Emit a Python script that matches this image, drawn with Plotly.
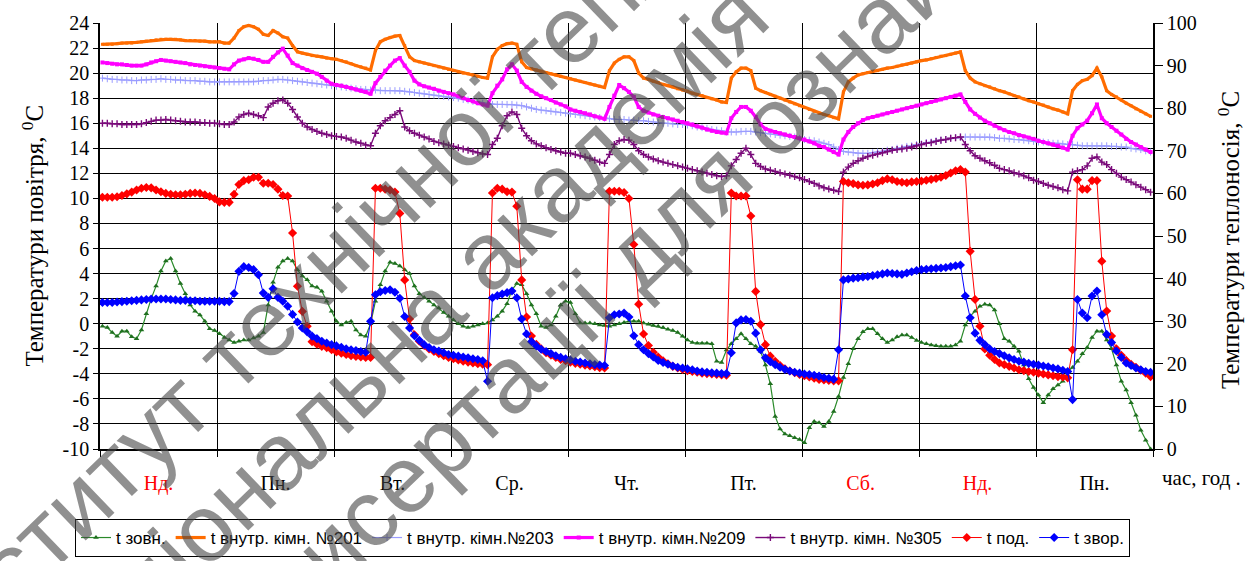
import plotly.graph_objects as go

# ---------------- data ----------------
days = ["Нд.", "Пн.", "Вт.", "Ср.", "Чт.", "Пт.", "Сб.", "Нд.", "Пн."]
day_colors = ["red", "black", "black", "black", "black", "black", "red", "red", "black"]
hours = list(range(216))

left_ticks = [-10, -8, -6, -4, -2, 0, 2, 4, 6, 8, 10, 12, 14, 16, 18, 20, 22, 24]
right_ticks = [0, 10, 20, 30, 40, 50, 60, 70, 80, 90, 100]

watermark_lines = ["Інститут технічної теплофізики",
                   "Національна академія наук України",
                   "дисертації для ознайомлення"]

t_out = [
    -0.2, -0.3, -0.7, -1.0, -0.6, -0.6, -1.05, -1.2, -0.5, 0.8, 2.0, 3.0, 4.2, 5.0, 5.2, 4.2, 3.2, 2.4, 1.5, 1.0, 0.7, 0.2, -0.4, -0.55,
    -0.8, -1.1, -1.3, -1.5, -1.4, -1.3, -1.3, -1.15, -1.0, -0.7, 1.5, 3.3, 4.5, 5.0, 5.2, 5.0, 4.3, 3.8, 3.5, 3.0, 2.9, 2.6, 1.8, 1.0,
    0.2, -0.1, 0.1, 0.2, -0.5, -0.9, -1.0, 0.0, 1.8, 3.1, 4.2, 4.9, 4.8, 4.6, 4.3, 4.0, 3.0, 2.4, 2.1, 1.8, 1.5, 1.25, 0.9, 0.6,
    0.3, 0.0, -0.2, -0.3, -0.2, -0.1, 0.0, 0.05, 0.3, 0.6, 1.0, 1.6, 2.7, 3.2, 3.1, 2.4, 1.5, 0.8, -0.2, -0.3, -0.1, 0.6, 1.5, 1.8,
    1.7, 0.8, 0.05, 0.05, 0.05, 0.0, -0.1, -0.15, -0.2, -0.1, 0.0, 0.1, 0.2, 0.2, 0.2, 0.05, -0.05, -0.15, -0.2, -0.3, -0.45, -0.55, -0.7, -1.0,
    -1.3, -1.5, -1.55, -1.55, -1.55, -1.6, -3.0, -3.1, -2.1, -1.6, -1.2, -0.8, -1.2, -1.6, -1.8, -2.2, -3.3, -4.8, -7.4, -8.4, -8.8, -8.95, -9.1, -9.25,
    -9.5, -8.3, -7.8, -7.9, -8.2, -7.8, -7.0, -5.8, -4.3, -3.2, -2.0, -1.2, -0.65, -0.4, -0.4, -0.8, -1.2, -1.5, -1.3, -1.05, -0.9, -0.9, -1.1, -1.35,
    -1.5, -1.6, -1.7, -1.75, -1.8, -1.8, -1.8, -1.7, -1.4, -0.1, 0.6, 1.0, 1.4, 1.55, 1.5, 1.1, 0.0, -1.2, -1.4, -1.8, -2.2, -3.3, -4.4, -5.1,
    -5.7, -6.3, -5.7, -5.2, -4.9, -4.6, -3.8, -3.5, -3.0, -2.4, -1.9, -1.1, -0.6, -0.6, -1.3, -2.0, -3.3, -4.6, -5.3, -6.3, -7.3, -8.5, -9.3, -10.0,
]

t_201 = [
    22.3, 22.3, 22.3, 22.35, 22.4, 22.4, 22.4, 22.45, 22.5, 22.55, 22.6, 22.65, 22.7, 22.7, 22.7, 22.7, 22.65, 22.6, 22.6, 22.6, 22.55, 22.55, 22.5, 22.5,
    22.5, 22.4, 22.4, 22.8, 23.4, 23.7, 23.8, 23.7, 23.5, 23.1, 23.0, 23.4, 23.2, 22.9, 22.8, 22.2, 21.7, 21.6, 21.5, 21.4, 21.35, 21.3, 21.2, 21.15,
    21.1, 21.0, 20.9, 20.75, 20.6, 20.5, 20.4, 20.25, 21.8, 22.5, 22.7, 22.85, 22.95, 23.0, 22.2, 21.3, 21.0, 20.9, 20.8, 20.7, 20.6, 20.5, 20.4, 20.3,
    20.2, 20.1, 20.0, 19.95, 19.85, 19.75, 19.65, 19.6, 21.3, 21.9, 22.2, 22.35, 22.4, 22.3, 20.9, 20.45, 20.35, 20.25, 20.15, 20.05, 19.95, 19.85, 19.75, 19.65,
    19.55, 19.45, 19.35, 19.25, 19.15, 19.05, 18.95, 18.85, 20.2, 20.8, 21.1, 21.3, 21.3, 21.0, 20.0, 19.6, 19.5, 19.35, 19.25, 19.1, 19.0, 18.9, 18.75, 18.65,
    18.55, 18.4, 18.3, 18.2, 18.05, 17.95, 17.85, 17.7, 17.65, 19.6, 20.1, 20.4, 20.4, 20.2, 18.8, 18.6, 18.45, 18.3, 18.15, 18.0, 17.85, 17.7, 17.55, 17.4,
    17.25, 17.1, 16.95, 16.8, 16.7, 16.6, 16.45, 16.35, 18.5, 19.3, 19.6, 19.85, 19.95, 20.05, 20.15, 20.2, 20.3, 20.4, 20.45, 20.55, 20.65, 20.7, 20.8, 20.9,
    21.0, 21.05, 21.15, 21.25, 21.35, 21.4, 21.5, 21.6, 21.7, 20.2, 19.6, 19.3, 19.15, 19.0, 18.9, 18.75, 18.6, 18.5, 18.35, 18.2, 18.1, 17.95, 17.8, 17.7,
    17.55, 17.45, 17.3, 17.15, 17.05, 16.9, 16.75, 18.6, 19.1, 19.4, 19.5, 19.8, 20.4, 19.7, 18.6, 18.3, 18.1, 17.85, 17.6, 17.4, 17.15, 16.95, 16.75, 16.55,
]

t_203 = [
    19.6, 19.55, 19.5, 19.5, 19.45, 19.45, 19.4, 19.4, 19.45, 19.45, 19.5, 19.5, 19.55, 19.5, 19.5, 19.45, 19.45, 19.4, 19.4, 19.4, 19.35, 19.35, 19.3, 19.3,
    19.3, 19.3, 19.3, 19.3, 19.3, 19.3, 19.3, 19.3, 19.35, 19.4, 19.4, 19.45, 19.5, 19.5, 19.45, 19.4, 19.35, 19.3, 19.25, 19.2, 19.15, 19.1, 19.05, 19.0,
    18.95, 18.9, 18.85, 18.8, 18.75, 18.7, 18.7, 18.65, 18.65, 18.6, 18.6, 18.6, 18.6, 18.6, 18.55, 18.5, 18.45, 18.4, 18.35, 18.3, 18.25, 18.2, 18.15, 18.1,
    18.05, 18.0, 17.9, 17.85, 17.75, 17.7, 17.6, 17.55, 17.5, 17.5, 17.5, 17.5, 17.5, 17.45, 17.4, 17.3, 17.2, 17.1, 17.05, 17.0, 16.95, 16.9, 16.85, 16.8,
    16.75, 16.7, 16.65, 16.6, 16.55, 16.5, 16.45, 16.4, 16.35, 16.3, 16.3, 16.3, 16.25, 16.25, 16.2, 16.2, 16.15, 16.1, 16.05, 16.0, 16.0, 15.95, 15.9, 15.9,
    15.85, 15.8, 15.7, 15.65, 15.6, 15.5, 15.45, 15.4, 15.3, 15.3, 15.3, 15.35, 15.35, 15.35, 15.3, 15.25, 15.2, 15.15, 15.1, 15.05, 15.0, 14.95, 14.9, 14.8,
    14.7, 14.65, 14.6, 14.5, 14.4, 14.3, 14.1, 13.9, 13.75, 13.7, 13.65, 13.6, 13.6, 13.6, 13.65, 13.7, 13.75, 13.85, 13.9, 14.0, 14.05, 14.15, 14.2, 14.3,
    14.35, 14.45, 14.5, 14.6, 14.65, 14.7, 14.8, 14.85, 14.9, 14.9, 14.9, 14.9, 14.9, 14.9, 14.9, 14.85, 14.8, 14.8, 14.75, 14.7, 14.7, 14.65, 14.6, 14.55,
    14.5, 14.5, 14.45, 14.4, 14.4, 14.35, 14.3, 14.3, 14.25, 14.2, 14.2, 14.2, 14.2, 14.2, 14.2, 14.15, 14.15, 14.1, 14.1, 14.0, 13.95, 13.9, 13.8, 13.7,
]

t_209 = [
    20.85, 20.8, 20.75, 20.7, 20.7, 20.65, 20.6, 20.6, 20.6, 20.7, 20.85, 20.95, 21.05, 21.0, 20.95, 20.9, 20.85, 20.8, 20.7, 20.65, 20.6, 20.55, 20.5, 20.45,
    20.4, 20.35, 20.3, 20.7, 21.0, 21.1, 21.2, 21.15, 21.05, 20.9, 20.9, 21.3, 21.65, 21.95, 21.4, 20.8, 20.6, 20.4, 20.25, 20.1, 19.95, 19.7, 19.4, 19.15,
    19.05, 19.0, 18.9, 18.8, 18.7, 18.6, 18.5, 18.35, 19.2, 19.7, 20.2, 20.6, 21.0, 21.2, 20.6, 20.1, 19.4, 19.1, 18.95, 18.85, 18.75, 18.6, 18.5, 18.4,
    18.3, 18.15, 18.0, 17.85, 17.75, 17.6, 17.5, 17.4, 18.4, 19.0, 19.5, 20.3, 20.7, 20.2, 19.3, 18.9, 18.6, 18.35, 18.15, 18.0, 17.85, 17.65, 17.5, 17.35,
    17.1, 17.0, 16.9, 16.8, 16.7, 16.55, 16.45, 16.35, 17.3, 18.2, 19.05, 18.8, 18.5, 18.1, 17.3, 17.0, 16.85, 16.7, 16.6, 16.5, 16.4, 16.3, 16.2, 16.1,
    16.0, 15.9, 15.75, 15.65, 15.5, 15.4, 15.3, 15.25, 15.2, 16.4, 16.9, 17.3, 17.3, 17.0, 16.5, 15.9, 15.55, 15.4, 15.3, 15.2, 15.1, 15.0, 14.9, 14.8,
    14.7, 14.55, 14.4, 14.2, 14.1, 13.9, 13.7, 13.5, 14.7, 15.3, 15.7, 16.0, 16.25, 16.4, 16.5, 16.6, 16.7, 16.8, 16.9, 17.0, 17.1, 17.2, 17.3, 17.4,
    17.5, 17.6, 17.7, 17.8, 17.9, 18.0, 18.1, 18.2, 18.3, 17.7, 17.1, 16.75, 16.45, 16.2, 16.0, 15.8, 15.6, 15.45, 15.3, 15.2, 15.05, 14.95, 14.85, 14.75,
    14.6, 14.5, 14.4, 14.3, 14.2, 14.05, 13.9, 15.0, 15.6, 15.9, 16.2, 16.8, 17.5, 16.4, 16.0, 15.7, 15.4, 15.1, 14.75, 14.5, 14.3, 14.1, 13.9, 13.7,
]

t_305 = [
    16.0, 16.0, 15.95, 15.95, 15.9, 15.9, 15.9, 15.9, 15.95, 16.05, 16.15, 16.25, 16.25, 16.3, 16.25, 16.2, 16.15, 16.1, 16.1, 16.1, 16.05, 16.05, 16.0, 16.0,
    15.95, 15.9, 15.9, 16.1, 16.5, 16.7, 16.8, 16.7, 16.6, 16.45, 17.3, 17.6, 17.8, 17.85, 17.6, 17.1, 16.5, 16.0, 15.7, 15.5, 15.35, 15.2, 15.1, 15.0,
    14.95, 14.9, 14.8, 14.65, 14.5, 14.4, 14.25, 14.2, 15.2, 15.8, 16.2, 16.45, 16.7, 17.0, 15.7, 15.4, 15.2, 15.05, 14.9, 14.75, 14.55, 14.45, 14.35, 14.25,
    14.15, 14.05, 13.95, 13.85, 13.75, 13.65, 13.55, 13.5, 14.3, 14.8, 15.8, 16.6, 16.9, 16.7, 15.6, 15.0, 14.6, 14.35, 14.2, 14.05, 13.9, 13.8, 13.7, 13.6,
    13.6, 13.5, 13.4, 13.3, 13.2, 13.05, 12.9, 12.8, 13.5, 14.3, 14.6, 14.7, 14.65, 14.3, 13.8, 13.5, 13.3, 13.15, 13.0, 12.9, 12.8, 12.7, 12.6, 12.5,
    12.4, 12.3, 12.2, 12.1, 12.0, 11.9, 11.8, 11.75, 11.8, 12.6, 13.1, 13.6, 14.0, 13.5, 12.8, 12.55, 12.35, 12.25, 12.15, 12.05, 11.95, 11.85, 11.75, 11.65,
    11.5, 11.35, 11.2, 11.0, 10.85, 10.75, 10.65, 10.55, 12.1, 12.5, 12.8, 13.0, 13.2, 13.35, 13.45, 13.55, 13.65, 13.75, 13.85, 13.9, 13.95, 14.0, 14.1, 14.2,
    14.3, 14.4, 14.45, 14.55, 14.65, 14.7, 14.8, 14.85, 14.9, 14.3, 13.8, 13.4, 13.2, 13.0, 12.85, 12.65, 12.4, 12.3, 12.2, 12.05, 11.95, 11.8, 11.65, 11.45,
    11.35, 11.2, 11.05, 10.95, 10.85, 10.7, 10.6, 12.1, 12.2, 12.3, 12.6, 13.2, 13.3, 12.9, 12.7, 12.3, 12.0, 11.7, 11.5, 11.3, 11.1, 10.9, 10.7, 10.5,
]

t_supply = [
    59.1, 59.1, 59.1, 59.2, 59.5, 59.9, 60.3, 60.8, 61.2, 61.4, 61.3, 60.8, 60.4, 60.0, 59.8, 59.7, 59.7, 59.8, 60.0, 60.1, 60.0, 59.7, 59.3, 58.8,
    58.0, 57.9, 57.9, 59.8, 62.1, 63.0, 63.2, 63.8, 63.8, 62.4, 62.4, 62.1, 61.0, 59.5, 59.4, 50.7, 38.2, 32.3, 28.8, 25.2, 24.6, 24.1, 23.8, 23.3,
    22.8, 22.5, 22.2, 21.9, 21.7, 21.6, 21.5, 21.5, 61.2, 61.2, 61.0, 60.8, 60.3, 55.3, 39.7, 30.5, 26.8, 25.3, 24.3, 23.5, 22.9, 22.4, 21.9, 21.5,
    21.2, 20.9, 20.6, 20.4, 20.2, 20.0, 19.9, 19.8, 60.1, 61.2, 61.0, 60.4, 60.3, 57.0, 39.7, 31.0, 26.5, 24.6, 23.5, 22.6, 22.0, 21.5, 21.0, 20.7,
    20.4, 20.1, 19.9, 19.7, 19.5, 19.3, 19.1, 19.0, 60.5, 60.5, 60.5, 60.2, 58.8, 48.0, 34.0, 27.0, 24.3, 22.7, 21.6, 20.7, 20.0, 19.4, 19.0, 18.7,
    18.4, 18.2, 18.0, 17.8, 17.7, 17.6, 17.5, 17.4, 17.3, 60.1, 59.4, 59.4, 59.4, 54.7, 37.0, 29.2, 24.5, 21.8, 20.6, 19.6, 18.8, 18.3, 17.9, 17.5,
    17.2, 16.9, 16.6, 16.3, 16.2, 16.1, 16.0, 16.0, 62.8, 62.5, 62.3, 62.0, 61.9, 62.0, 62.2, 62.5, 63.0, 63.4, 63.2, 62.8, 62.6, 62.5, 62.7, 62.8,
    62.9, 63.1, 63.3, 63.5, 63.8, 64.2, 64.8, 65.3, 65.6, 65.0, 46.4, 35.1, 28.8, 23.5, 22.0, 21.0, 20.2, 19.8, 19.4, 19.0, 18.6, 18.4, 18.2, 18.0,
    17.8, 17.6, 17.4, 17.2, 17.0, 16.9, 16.7, 23.3, 63.2, 61.0, 61.0, 63.0, 63.0, 44.1, 32.4, 26.5, 23.5, 22.0, 20.8, 19.9, 19.2, 18.5, 17.8, 17.0,
]

t_return = [
    34.4, 34.4, 34.4, 34.5, 34.6, 34.7, 34.8, 34.9, 35.0, 35.1, 35.2, 35.2, 35.2, 35.2, 35.1, 35.0, 34.9, 34.9, 34.8, 34.8, 34.7, 34.7, 34.7, 34.7,
    34.7, 34.6, 34.6, 36.5, 41.7, 42.8, 42.6, 42.1, 40.9, 36.6, 35.6, 37.6, 35.6, 34.7, 33.5, 31.6, 29.8, 28.4, 27.5, 26.5, 25.9, 25.3, 24.9, 24.5,
    24.2, 23.9, 23.5, 23.3, 23.1, 22.9, 22.7, 30.0, 36.2, 36.9, 37.2, 37.4, 36.8, 35.4, 31.1, 28.4, 26.6, 25.5, 24.5, 23.8, 23.3, 23.0, 22.6, 22.2,
    22.0, 21.8, 21.6, 21.4, 21.2, 21.0, 20.7, 15.9, 35.5, 36.0, 36.4, 36.7, 37.1, 35.5, 30.5, 27.0, 25.2, 24.2, 23.4, 22.9, 22.4, 21.9, 21.5, 21.2,
    20.9, 20.6, 20.4, 20.2, 20.0, 19.8, 19.7, 19.6, 30.8, 31.5, 31.7, 31.9, 31.0, 26.6, 24.5, 23.3, 22.4, 21.6, 20.8, 20.3, 19.9, 19.5, 19.2, 19.0,
    18.8, 18.6, 18.3, 18.1, 18.0, 17.9, 17.8, 17.7, 17.7, 22.6, 29.6, 30.3, 30.4, 30.0, 27.2, 23.3, 21.4, 20.5, 19.8, 19.2, 18.7, 18.3, 18.0, 17.8,
    17.6, 17.5, 17.3, 17.1, 16.8, 16.6, 16.4, 23.3, 39.7, 39.9, 40.1, 40.2, 40.4, 40.5, 40.7, 40.9, 41.1, 41.3, 41.2, 41.1, 41.0, 41.3, 41.6, 41.9,
    42.1, 42.2, 42.3, 42.4, 42.5, 42.6, 42.8, 43.0, 43.2, 35.9, 30.8, 27.2, 25.5, 24.5, 23.5, 22.9, 22.4, 21.9, 21.4, 21.0, 20.6, 20.4, 20.1, 19.9,
    19.7, 19.5, 19.3, 19.0, 18.8, 18.5, 18.2, 11.6, 35.1, 31.9, 30.8, 35.9, 37.1, 31.5, 26.9, 25.0, 23.0, 21.5, 20.2, 19.6, 19.0, 18.6, 18.2, 18.0,
]

# ---------------- figure ----------------
SERIF = "Liberation Serif, Times New Roman, serif"
SANS = "Liberation Sans, Arial, sans-serif"

fig = go.Figure()

fig.add_trace(go.Scatter(
    x=hours, y=t_out, name="t зовн.", mode="lines+markers",
    line=dict(color="#2a8a2a", width=1.2),
    marker=dict(symbol="triangle-up", size=5, color="#1f6f1f")))
fig.add_trace(go.Scatter(
    x=hours, y=t_201, name="t внутр. кімн. №201", mode="lines+markers",
    line=dict(color="#ff6c00", width=3.2),
    marker=dict(symbol="square", size=3, color="#ff6c00")))
fig.add_trace(go.Scatter(
    x=hours, y=t_203, name="t внутр. кімн.№203", mode="lines+markers",
    line=dict(color="#9a9cff", width=1.2),
    marker=dict(symbol="cross-thin", size=5, line=dict(color="#9a9cff", width=1))))
fig.add_trace(go.Scatter(
    x=hours, y=t_209, name="t внутр. кімн.№209", mode="lines+markers",
    line=dict(color="#ff00ff", width=3.2),
    marker=dict(symbol="square", size=4, color="#ff00ff")))
fig.add_trace(go.Scatter(
    x=hours, y=t_305, name="t внутр. кімн. №305", mode="lines+markers",
    line=dict(color="#7a0a7a", width=1.4),
    marker=dict(symbol="cross-thin", size=5, line=dict(color="#7a0a7a", width=1.4))))
fig.add_trace(go.Scatter(
    x=hours, y=t_supply, name="t под.", mode="lines+markers", yaxis="y2",
    line=dict(color="#ff0000", width=1),
    marker=dict(symbol="diamond", size=7, color="#ff0000")))
fig.add_trace(go.Scatter(
    x=hours, y=t_return, name="t звор.", mode="lines+markers", yaxis="y2",
    line=dict(color="#0000ff", width=1),
    marker=dict(symbol="diamond", size=7, color="#0000ff")))

n_hours = len(hours)
day_bounds = [24 * k - 0.5 for k in range(len(days) + 1)]
day_centers = [24 * k + 11.5 for k in range(len(days))]
day_text = [f'<span style="color:{c}">{d}</span>' for d, c in zip(days, day_colors)]
x_range = [-0.5, n_hours - 0.5]

fig.update_layout(
    width=1254, height=561,
    margin=dict(l=100, r=101, t=23, b=112),
    paper_bgcolor="white", plot_bgcolor="white",
    showlegend=True,
    legend=dict(
        orientation="h", xref="container", yref="container",
        x=0.0598, y=0.0749, xanchor="left", yanchor="top",
        bordercolor="black", borderwidth=1, bgcolor="white",
        font=dict(family=SANS, size=17, color="black"),
        itemwidth=30, tracegroupgap=0,
    ),
    xaxis=dict(
        range=x_range, tickmode="array", tickvals=day_centers, ticktext=day_text,
        showgrid=False, ticks="outside", ticklen=15, tickcolor="rgba(0,0,0,0)",
        tickfont=dict(family=SERIF, size=20, color="black"),
        minor=dict(tickmode="array", tickvals=day_bounds, showgrid=True,
                   gridcolor="black", gridwidth=1, ticks="outside", ticklen=6,
                   tickcolor="black"),
        showline=True, linecolor="black", linewidth=1.5, zeroline=False,
    ),
    xaxis2=dict(
        overlaying="x", matches="x", anchor="y", side="bottom",
        range=x_range, tickmode="linear", tick0=-0.5, dtick=1,
        showgrid=False, ticks="outside", ticklen=4, tickcolor="black", tickwidth=1,
        showticklabels=False, showline=False, zeroline=False,
    ),
    yaxis=dict(
        range=[-10, 24], tickmode="array", tickvals=left_ticks, ticktext=[str(v) for v in left_ticks],
        showgrid=True, gridcolor="black", gridwidth=1,
        ticks="outside", ticklen=5, tickcolor="black",
        showline=True, linecolor="black", linewidth=1.5, zeroline=False,
        tickfont=dict(family=SERIF, size=20, color="black"),
    ),
    yaxis2=dict(
        range=[0, 100], overlaying="y", side="right", anchor="x",
        tickmode="array", tickvals=right_ticks, ticktext=[str(v) for v in right_ticks],
        showgrid=False, ticks="outside", ticklen=8, tickcolor="black",
        showline=True, linecolor="black", linewidth=1.5, zeroline=False,
        tickfont=dict(family=SERIF, size=20, color="black"),
    ),
)

fig.add_annotation(
    xref="paper", yref="paper", x=-0.064, y=0.5, xanchor="center", yanchor="middle",
    textangle=-90, showarrow=False,
    text="Температури повітря, <sup>0</sup>С", font=dict(family=SERIF, size=25, color="black"))
fig.add_annotation(
    xref="paper", yref="paper", x=1.072, y=0.49, xanchor="center", yanchor="middle",
    textangle=-90, showarrow=False,
    text="Температури теплоносія, <sup>0</sup>С", font=dict(family=SERIF, size=25, color="black"))
fig.add_annotation(
    xref="paper", yref="paper", x=1.046, y=-0.068, xanchor="center", yanchor="middle",
    showarrow=False,
    text="час,\u00a0год\u00a0.", font=dict(family=SERIF, size=21, color="black"))

# diagonal watermark over the picture
wm_pos = [(0.3067, 0.657), (0.4796, 0.725), (0.6087, 0.695)]
for txt, (wx, wy) in zip(watermark_lines, wm_pos):
    fig.add_annotation(
        xref="paper", yref="paper", x=wx, y=wy, xanchor="center", yanchor="middle",
        textangle=-44, showarrow=False, text=txt,
        font=dict(family=SANS, size=95, color="rgba(70,70,70,0.6)"))

fig.write_html("out.html")
